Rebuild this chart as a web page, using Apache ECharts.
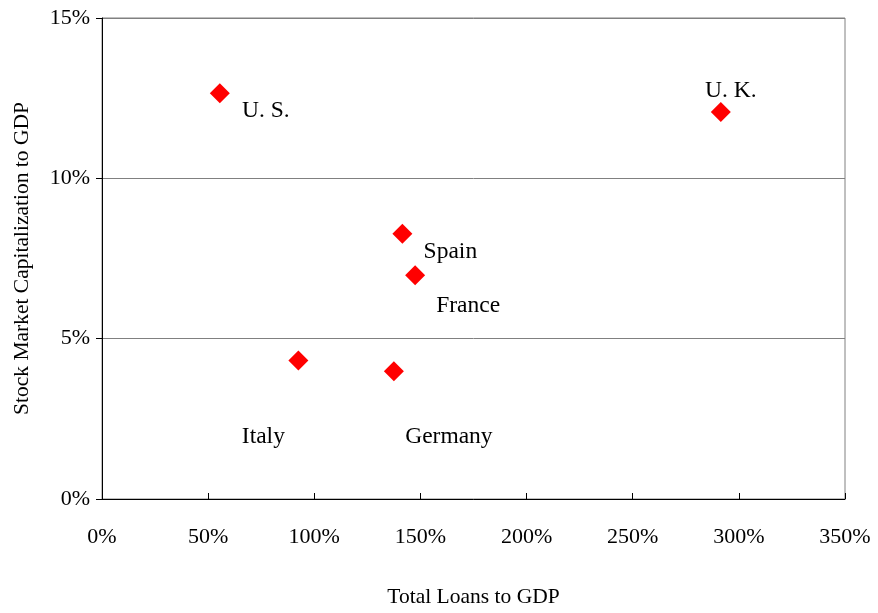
<!DOCTYPE html>
<html>
<head>
<meta charset="UTF-8">
<script src="https://cdn.jsdelivr.net/npm/echarts@6/dist/echarts.min.js"></script>
<title>Loans vs Stock Market</title>
<style>
	html, body { margin: 0; padding: 0; background: #fff; }
	#chart { width: 878px; height: 613px; }
</style>
</head>
<body>
	<div id="chart"></div>
	<script>
		// data (percent of GDP)
		var countries = ['U. S.', 'U. K.', 'Spain', 'France', 'Italy', 'Germany'];
		var loans = [55.5, 291.5, 141.5, 147.5, 92.5, 137.5];
		var stockCap = [12.65, 12.07, 8.27, 6.98, 4.32, 3.98];
		var xTicks = [0, 50, 100, 150, 200, 250, 300, 350];
		var yTicks = [0, 5, 10, 15];

		// where each label sits relative to its marker (px)
		var labelOffsets = [[46, 17], [10, -21], [48, 18], [53, 31], [-35, 76], [55, 65]];

		var font = '"Liberation Serif", "Times New Roman", serif';

		var points = [];
		for (var i = 0; i < countries.length; i++) {
			points.push({
				name: countries[i],
				value: [loans[i], stockCap[i]],
				label: {
					show: true,
					formatter: countries[i],
					position: 'inside',
					offset: labelOffsets[i],
					color: '#000',
					fontFamily: font,
					fontSize: 23.5
				}
			});
		}

		var chart = echarts.init(document.getElementById('chart'));
		var option = {
			backgroundColor: '#fff',
			animation: false,
			grid: {
				left: 102,
				right: 33,
				top: 18,
				bottom: 107,
				show: true,
				borderColor: '#808080',
				borderWidth: 1
			},
			xAxis: {
				type: 'value',
				min: xTicks[0],
				max: xTicks[xTicks.length - 1],
				interval: xTicks[1] - xTicks[0],
				name: 'Total Loans to GDP',
				nameLocation: 'middle',
				nameGap: 87,
				nameTextStyle: { color: '#000', fontFamily: font, fontSize: 21.5 },
				axisLine: { show: true, lineStyle: { color: '#000', width: 1 } },
				axisTick: { show: true, inside: true, length: 6, lineStyle: { color: '#000' } },
				axisLabel: {
					color: '#000', fontFamily: font, fontSize: 22, margin: 27,
					formatter: function (v) { return v + '%'; }
				},
				splitLine: { show: false }
			},
			yAxis: {
				type: 'value',
				min: yTicks[0],
				max: yTicks[yTicks.length - 1],
				interval: yTicks[1] - yTicks[0],
				name: 'Stock Market Capitalization to GDP',
				nameLocation: 'middle',
				nameGap: 69,
				nameTextStyle: { color: '#000', fontFamily: font, fontSize: 21.5 },
				axisLine: { show: true, lineStyle: { color: '#000', width: 1 } },
				axisTick: { show: true, length: 6, lineStyle: { color: '#000' } },
				axisLabel: {
					color: '#000', fontFamily: font, fontSize: 22, margin: 12,
					formatter: function (v) { return v + '%'; }
				},
				splitLine: { show: true, lineStyle: { color: '#808080', width: 1 } }
			},
			series: [{
				type: 'scatter',
				symbol: 'diamond',
				symbolSize: 20,
				itemStyle: { color: '#ff0000', opacity: 1 },
				data: points
			}]
		};
		chart.setOption(option);
	</script>
</body>
</html>
